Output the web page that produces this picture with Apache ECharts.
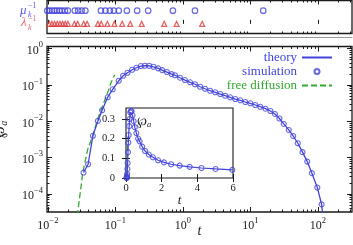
<!DOCTYPE html>
<html><head><meta charset="utf-8">
<script src="https://cdn.jsdelivr.net/npm/echarts@6/dist/echarts.min.js"></script>
<style>html,body{margin:0;padding:0;background:#fff}#c{width:353px;height:245px}</style>
</head><body><div id="c"></div>
<script>
// ---- data ----
const simT = [0.0337,0.0394,0.0464,0.0551,0.0636,0.0768,0.0912,0.112,0.130,0.151,0.177,0.205,0.238,0.273,0.316,0.367,0.430,0.493,0.579,0.681,0.763,0.906,1.07,1.28,1.51,1.80,2.13,2.53,3.01,3.57,4.23,5.02,5.96,7.08,8.40,9.97,11.8,14.0,16.7,19.8,23.1,26.9,31.2,37.0,43.0,50.4,59.2,69.5,81.4,98.0,113.5];
const simY = [3.9e-4,6.6e-4,4.0e-3,0.0103,0.0202,0.0459,0.0762,0.131,0.180,0.218,0.263,0.299,0.333,0.339,0.339,0.318,0.288,0.258,0.228,0.200,0.186,0.159,0.137,0.119,0.105,0.0898,0.0791,0.0697,0.0630,0.0566,0.0508,0.0459,0.0412,0.0380,0.0341,0.0314,0.0282,0.0253,0.0223,0.0193,0.0160,0.0120,0.0085,0.0058,0.00397,0.0025,0.00142,7.8e-4,3.75e-4,1.51e-4,5.2e-5];
const theoryT = [0.0337,0.0394,0.0464,0.0551,0.0636,0.0768,0.0912,0.112,0.130,0.151,0.177,0.205,0.238,0.273,0.316,0.367,0.430,0.493,0.579,0.681,0.763,0.906,1.07,1.28,1.51,1.80,2.13,2.53,3.01,3.57,4.23,5.02,5.96,7.08,8.40,9.97,11.8,14.0,16.7,19.8,23.1,26.9,31.2,37.0,43.0,50.4,59.2,69.5,81.4,98.0,113.5,119];
const theoryY = [3.9e-4,6.6e-4,4.0e-3,0.0103,0.0202,0.0459,0.0762,0.131,0.180,0.218,0.263,0.299,0.333,0.339,0.339,0.318,0.288,0.258,0.228,0.200,0.186,0.159,0.137,0.119,0.105,0.0898,0.0791,0.0697,0.0630,0.0566,0.0508,0.0459,0.0412,0.0380,0.0341,0.0314,0.0282,0.0253,0.0223,0.0193,0.0160,0.0120,0.0085,0.0058,0.00397,0.0025,0.00142,7.8e-4,3.75e-4,1.51e-4,5.2e-5,2.4e-5];
const freeT = [0.0265,0.0277,0.0329,0.0387,0.0462,0.0540,0.0654,0.0776,0.0872,0.0977];
const freeY = [1.4e-5,3.2e-5,3.9e-4,1.64e-3,4.05e-3,0.0109,0.0282,0.0655,0.123,0.188];
const muInv = [0.0098,0.0105,0.0115,0.0125,0.0136,0.0148,0.0161,0.0179,0.0198,0.0251,0.0281,0.0316,0.0359,0.0610,0.0711,0.0829,0.0950,0.112,0.148,0.210,0.306,0.711,1.51,15.5];
const lambdaInv = [0.01045,0.01146,0.01256,0.01374,0.01507,0.01651,0.01805,0.0198,0.0247,0.0276,0.0339,0.0381,0.0550,0.0616,0.0761,0.0967,0.126,0.166,0.245,0.528,0.807,1.93];
const xMajor = [0.01,0.1,1,10,100];
const yMajor = [1e-4,1e-3,1e-2,1e-1,1];
const insetXTicks = [0,2,4,6];
const insetYTicks = [0,0.1,0.2,0.3];
const insetTMax = 6;

// ---- styling ----
const SERIF = '"Liberation Serif","DejaVu Serif",serif';
const INK = '#1a1a1a';
const BLUE = '#4343dc';
const GREEN = '#33a833';
const RED = '#e03a3a';
const X_MIN = 0.0097, X_MAX = 320;
const Y_MIN = 3.2e-5, Y_MAX = 1.15;

function minorTicks(lo, hi) {
  const out = [];
  for (let e = Math.floor(Math.log10(lo)); e <= Math.ceil(Math.log10(hi)); e++)
    for (let m = 2; m <= 9; m++) { const v = m * Math.pow(10, e); if (v > lo && v < hi) out.push(v); }
  return out;
}
const xMinor = minorTicks(X_MIN, X_MAX);
const yMinor = minorTicks(Y_MIN, Y_MAX);
const xMajorIn = xMajor.filter(v => v >= X_MIN && v <= X_MAX);
const yMajorIn = yMajor.filter(v => v >= Y_MIN && v <= Y_MAX);

const powRich = {
  b: {fontSize: 12, fontFamily: SERIF, color: INK, verticalAlign: 'bottom', lineHeight: 16},
  s: {fontSize: 8.5, fontFamily: SERIF, color: INK, verticalAlign: 'top', lineHeight: 9}
};
function powLabel(v) {
  const e = Math.round(Math.log10(v));
  return '{b|10}{s|' + (e < 0 ? '\u2212' + (-e) : e) + '}';
}
function tick(len, vals) {
  return {show: true, inside: true, length: len, customValues: vals, lineStyle: {color: INK, width: 1}};
}
function xLog(grid, pos, ticks, len, extra) {
  return Object.assign({type: 'log', gridIndex: grid, position: pos, min: X_MIN, max: X_MAX,
    axisLine: {show: false}, splitLine: {show: false}, axisTick: tick(len, ticks), axisLabel: {show: false}}, extra || {});
}
function yLog(grid, pos, ticks, len, extra) {
  return Object.assign({type: 'log', gridIndex: grid, position: pos, min: Y_MIN, max: Y_MAX,
    axisLine: {show: false}, splitLine: {show: false}, axisTick: tick(len, ticks), axisLabel: {show: false}}, extra || {});
}

const zip = (a, b) => a.map((v, i) => [v, b[i]]);
const simData = zip(simT, simY);
const theoryData = zip(theoryT, theoryY);
const freeData = zip(freeT, freeY);
const simInset = simData.filter(p => p[0] <= insetTMax);
const theoryInset = theoryData.filter(p => p[0] <= insetTMax);

const gridStyle = {show: true, borderColor: INK, borderWidth: 1.3, backgroundColor: 'transparent', containLabel: false, outerBoundsMode: 'none'};

const option = {
  animation: false,
  backgroundColor: '#fff',
  grid: [
    Object.assign({left: 47, top: 0.5, width: 305, height: 33}, gridStyle),
    Object.assign({left: 47, top: 46.5, width: 305, height: 165.5}, gridStyle),
    Object.assign({left: 126, top: 108, width: 107, height: 70}, gridStyle, {borderWidth: 1.1})
  ],
  xAxis: [
    xLog(0, 'bottom', xMajorIn, 4),
    xLog(0, 'bottom', xMinor, 2),
    xLog(0, 'top', xMajorIn, 4),
    xLog(0, 'top', xMinor, 2),
    xLog(0, 'bottom', [], 0, {offset: 4, axisTick: {show: false}, axisLine: {show: true, lineStyle: {color: '#9a9a9a', width: 1}}}),
    xLog(1, 'bottom', xMajorIn, 5, {
      axisLabel: {show: true, customValues: xMajorIn, formatter: powLabel, rich: powRich, margin: 4},
      name: 't', nameLocation: 'middle', nameGap: 12, nameMoveOverlap: false,
      nameTextStyle: {fontFamily: SERIF, fontStyle: 'italic', fontSize: 14, color: INK, verticalAlign: 'top'}
    }),
    xLog(1, 'bottom', xMinor, 2.5),
    xLog(1, 'top', xMajorIn, 5),
    xLog(1, 'top', xMinor, 2.5),
    {type: 'value', gridIndex: 2, position: 'bottom', min: 0, max: insetTMax,
      axisLine: {show: false}, splitLine: {show: false}, axisTick: tick(4, insetXTicks),
      axisLabel: {show: true, customValues: insetXTicks, margin: 5, fontFamily: SERIF, fontSize: 10.5, color: INK},
      name: 't', nameLocation: 'middle', nameGap: 16, nameMoveOverlap: false,
      nameTextStyle: {fontFamily: SERIF, fontStyle: 'italic', fontSize: 13, color: INK}},
    {type: 'value', gridIndex: 2, position: 'top', min: 0, max: insetTMax,
      axisLine: {show: false}, splitLine: {show: false}, axisTick: tick(4, insetXTicks), axisLabel: {show: false}}
  ],
  yAxis: [
    {type: 'value', gridIndex: 0, min: -0.73, max: 1.77, show: false},
    yLog(1, 'left', yMajorIn, 5, {
      axisLabel: {show: true, customValues: yMajorIn, formatter: powLabel, rich: powRich, margin: 4},
      name: '{p|\u2118}{a|a}', nameLocation: 'middle', nameGap: 38, nameRotate: 90, nameMoveOverlap: false,
      nameTextStyle: {verticalAlign: 'bottom', rich: {
        p: {fontFamily: SERIF, fontSize: 14, color: INK, verticalAlign: 'top', lineHeight: 16},
        a: {fontFamily: SERIF, fontStyle: 'italic', fontSize: 10, color: INK, verticalAlign: 'bottom', lineHeight: 10}
      }}
    }),
    yLog(1, 'left', yMinor, 2.5),
    yLog(1, 'right', yMajorIn, 5),
    yLog(1, 'right', yMinor, 2.5),
    {type: 'value', gridIndex: 2, position: 'left', min: 0, max: 0.355,
      axisLine: {show: false}, splitLine: {show: false}, axisTick: tick(4, insetYTicks),
      axisLabel: {show: true, customValues: insetYTicks, margin: 11, fontFamily: SERIF, fontSize: 10.5, color: INK}},
    {type: 'value', gridIndex: 2, position: 'right', min: 0, max: 0.355,
      axisLine: {show: false}, splitLine: {show: false}, axisTick: tick(4, insetYTicks), axisLabel: {show: false}}
  ],
  legend: {
    right: 15, top: 46, orient: 'vertical', align: 'right',
    itemWidth: 30, itemHeight: 5, itemGap: 1,
    textStyle: {fontFamily: SERIF, fontSize: 13, lineHeight: 12},
    selectedMode: false,
    data: [
      {name: 'theory', textStyle: {color: BLUE}, itemStyle: {opacity: 0}},
      {name: 'simulation', textStyle: {color: BLUE}},
      {name: 'free diffusion', textStyle: {color: GREEN}, itemStyle: {opacity: 0}}
    ]
  },
  graphic: [
    {type: 'text', left: 20, top: 4, style: {text: '\u03bc', font: 'italic 13px ' + SERIF, fill: '#5a5ae6'}},
    {type: 'text', left: 28, top: 2, style: {text: '\u22121', font: '8px ' + SERIF, fill: '#5a5ae6'}},
    {type: 'text', left: 28, top: 11, style: {text: 'k', font: 'italic 8px ' + SERIF, fill: '#5a5ae6'}},
    {type: 'text', left: 21, top: 16, style: {text: '\u03bb', font: 'italic 13px ' + SERIF, fill: '#e66a78'}},
    {type: 'text', left: 28, top: 15, style: {text: '\u22121', font: '8px ' + SERIF, fill: '#e66a78'}},
    {type: 'text', left: 28, top: 24, style: {text: 'k', font: 'italic 8px ' + SERIF, fill: '#e66a78'}},
    {type: 'text', left: 137, top: 116, style: {rich: {
        p: {fontFamily: SERIF, fontSize: 12, fill: INK},
        a: {fontFamily: SERIF, fontStyle: 'italic', fontSize: 8.5, fill: INK, padding: [5, 0, 0, 0]}
      }, text: '{p|\u2118}{a|a}'}}
  ],
  series: [
    {name: 'mu', type: 'scatter', xAxisIndex: 0, yAxisIndex: 0, data: muInv.map(v => [v, 1]),
      symbol: 'circle', symbolSize: 5.5, itemStyle: {color: 'rgba(0,0,0,0)', borderColor: BLUE, borderWidth: 1.2}},
    {name: 'lambda', type: 'scatter', xAxisIndex: 0, yAxisIndex: 0, data: lambdaInv.map(v => [v, 0]),
      symbol: 'triangle', symbolSize: 5, itemStyle: {color: 'rgba(0,0,0,0)', borderColor: RED, borderWidth: 1.2}},
    {name: 'theory', type: 'line', xAxisIndex: 5, yAxisIndex: 1, data: theoryData, showSymbol: false, symbol: 'none',
      lineStyle: {color: BLUE, width: 1.3}, itemStyle: {color: BLUE}, z: 3},
    {name: 'simulation', type: 'scatter', xAxisIndex: 5, yAxisIndex: 1, data: simData,
      symbol: 'circle', symbolSize: 5, itemStyle: {color: 'rgba(0,0,0,0)', borderColor: BLUE, borderWidth: 1.1}, z: 4},
    {name: 'free diffusion', type: 'line', xAxisIndex: 5, yAxisIndex: 1, data: freeData, showSymbol: false, symbol: 'none',
      lineStyle: {color: GREEN, width: 1.3, type: [6, 3]}, itemStyle: {color: GREEN}, z: 2},
    {name: 'theory', type: 'line', xAxisIndex: 9, yAxisIndex: 5, data: theoryInset, showSymbol: false, symbol: 'none',
      lineStyle: {color: BLUE, width: 1.2}, z: 3},
    {name: 'simulation', type: 'scatter', xAxisIndex: 9, yAxisIndex: 5, data: simInset,
      symbol: 'circle', symbolSize: 5, itemStyle: {color: 'rgba(0,0,0,0)', borderColor: BLUE, borderWidth: 1.1}, z: 4},
    {name: 'free diffusion', type: 'line', xAxisIndex: 9, yAxisIndex: 5, data: freeData, showSymbol: false, symbol: 'none',
      lineStyle: {color: GREEN, width: 1.2, type: [6, 3]}, z: 2}
  ]
};
const chart = echarts.init(document.getElementById('c'));
chart.setOption(option);
</script></body></html>
